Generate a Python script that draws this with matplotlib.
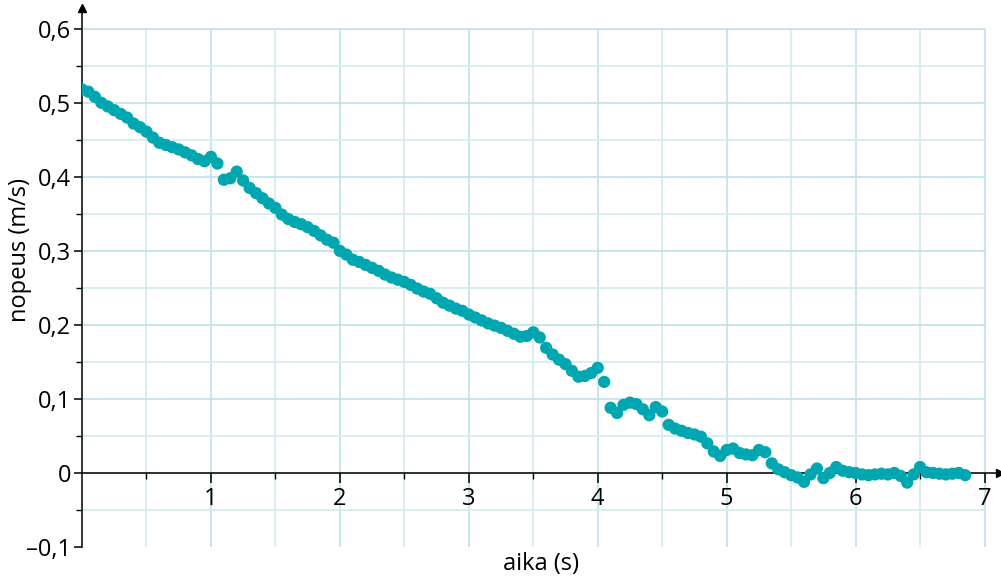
import numpy as np
import matplotlib.pyplot as plt
from matplotlib.ticker import FixedLocator

plt.rcParams['font.family'] = ['Open Sans', 'DejaVu Sans']

# measured speed (m/s), sampled every 0.05 s
aika = [
    0.00, 0.05, 0.10, 0.15, 0.20, 0.25, 0.30, 0.35, 0.40, 0.45,
    0.50, 0.55, 0.60, 0.65, 0.70, 0.75, 0.80, 0.85, 0.90, 0.95,
    1.00, 1.05, 1.10, 1.15, 1.20, 1.25, 1.30, 1.35, 1.40, 1.45,
    1.50, 1.55, 1.60, 1.65, 1.70, 1.75, 1.80, 1.85, 1.90, 1.95,
    2.00, 2.05, 2.10, 2.15, 2.20, 2.25, 2.30, 2.35, 2.40, 2.45,
    2.50, 2.55, 2.60, 2.65, 2.70, 2.75, 2.80, 2.85, 2.90, 2.95,
    3.00, 3.05, 3.10, 3.15, 3.20, 3.25, 3.30, 3.35, 3.40, 3.45,
    3.50, 3.55, 3.60, 3.65, 3.70, 3.75, 3.80, 3.85, 3.90, 3.95,
    4.00, 4.05, 4.10, 4.15, 4.20, 4.25, 4.30, 4.35, 4.40, 4.45,
    4.50, 4.55, 4.60, 4.65, 4.70, 4.75, 4.80, 4.85, 4.90, 4.95,
    5.00, 5.05, 5.10, 5.15, 5.20, 5.25, 5.30, 5.35, 5.40, 5.45,
    5.50, 5.55, 5.60, 5.65, 5.70, 5.75, 5.80, 5.85, 5.90, 5.95,
    6.00, 6.05, 6.10, 6.15, 6.20, 6.25, 6.30, 6.35, 6.40, 6.45,
    6.50, 6.55, 6.60, 6.65, 6.70, 6.75, 6.80, 6.85,
]
nopeus = [
    0.518, 0.515, 0.508, 0.500, 0.495, 0.490, 0.485, 0.480, 0.472, 0.467,
    0.461, 0.453, 0.446, 0.443, 0.440, 0.437, 0.433, 0.429, 0.424, 0.421,
    0.427, 0.418, 0.396, 0.398, 0.407, 0.395, 0.385, 0.378, 0.371, 0.364,
    0.358, 0.349, 0.343, 0.339, 0.336, 0.332, 0.327, 0.321, 0.315, 0.311,
    0.300, 0.295, 0.288, 0.285, 0.281, 0.277, 0.273, 0.268, 0.264, 0.261,
    0.258, 0.254, 0.249, 0.245, 0.242, 0.236, 0.230, 0.226, 0.222, 0.219,
    0.214, 0.210, 0.206, 0.202, 0.199, 0.196, 0.192, 0.188, 0.184, 0.185,
    0.190, 0.183, 0.169, 0.160, 0.153, 0.147, 0.138, 0.130, 0.131, 0.135,
    0.142, 0.123, 0.088, 0.081, 0.092, 0.095, 0.093, 0.086, 0.078, 0.089,
    0.083, 0.065, 0.060, 0.057, 0.054, 0.052, 0.049, 0.040, 0.029, 0.023,
    0.031, 0.033, 0.027, 0.025, 0.024, 0.031, 0.028, 0.013, 0.005, 0.001,
    -0.003, -0.006, -0.012, -0.002, 0.006, -0.007, 0.000, 0.008, 0.003, 0.001,
    0.000, -0.002, -0.003, -0.002, -0.001, -0.002, 0.000, -0.004, -0.013, -0.002,
    0.008, 0.001, 0.000, -0.001, -0.002, -0.001, 0.000, -0.003,
]

x_ticks = [1, 2, 3, 4, 5, 6, 7]
y_ticks = [-0.1, 0.0, 0.1, 0.2, 0.3, 0.4, 0.5, 0.6]
y_labels = ['\u20130,1', '0', '0,1', '0,2', '0,3', '0,4', '0,5', '0,6']

xmax, ymax = 7.12, 0.628

fig = plt.figure(figsize=(10.01, 5.77), dpi=100)
ax = fig.add_axes([82 / 1001, 30 / 577, 918 / 1001, 539 / 577])
ax.set_xlim(0, xmax)
ax.set_ylim(-0.1, ymax)

# grid only inside 0..7 and -0.1..0.6
grid_minor = '#d3ebf0'
grid_major = '#bfe2e9'
for gx in np.arange(0.5, 7.01, 0.5):
    c = grid_major if gx % 1 == 0 else grid_minor
    ax.vlines(gx, -0.1, 0.6, color=c, lw=1.2, zorder=0)
for gy in np.arange(-0.05, 0.601, 0.05):
    c = grid_major if round(gy * 20) % 2 == 0 else grid_minor
    ax.hlines(gy, 0, 7, color=c, lw=1.2, zorder=0)

ax.scatter(aika, nopeus, s=78, color='#00a6b0', edgecolors='none', zorder=3)

# axes with arrows
for s in ['top', 'right']:
    ax.spines[s].set_visible(False)
ax.spines['bottom'].set_position(('data', 0))
ax.spines['left'].set_position(('data', 0))
ax.spines['bottom'].set_linewidth(1.1)
ax.spines['left'].set_linewidth(1.1)
ax.spines['bottom'].set_bounds(0, xmax)
ax.spines['left'].set_bounds(-0.1, ymax)
ax.plot(xmax, 0, '>k', ms=6, clip_on=False, zorder=5)
ax.plot(0, ymax, '^k', ms=6, clip_on=False, zorder=5)

ax.xaxis.set_major_locator(FixedLocator(x_ticks))
ax.xaxis.set_minor_locator(FixedLocator(np.arange(0.5, 7.01, 1.0)))
ax.yaxis.set_major_locator(FixedLocator(y_ticks))
ax.yaxis.set_minor_locator(FixedLocator(np.arange(-0.05, 0.6, 0.1)))
ax.set_yticklabels(y_labels)
ax.tick_params(axis='x', which='major', direction='out', length=7, width=1.1, labelsize=17, pad=3)
ax.tick_params(axis='x', which='minor', direction='out', length=4, width=1.0)
ax.tick_params(axis='y', which='major', direction='out', length=6, width=1.1, labelsize=17, pad=2)
ax.tick_params(axis='y', which='minor', direction='out', length=4, width=1.0)

fig.text(541 / 1001, 13 / 577, 'aika (s)', ha='center', va='center', fontsize=17)
fig.text(20 / 1001, 1 - 250 / 577, 'nopeus (m/s)', ha='center', va='center',
         rotation=90, fontsize=17)

fig.savefig('out.png', dpi=100)
